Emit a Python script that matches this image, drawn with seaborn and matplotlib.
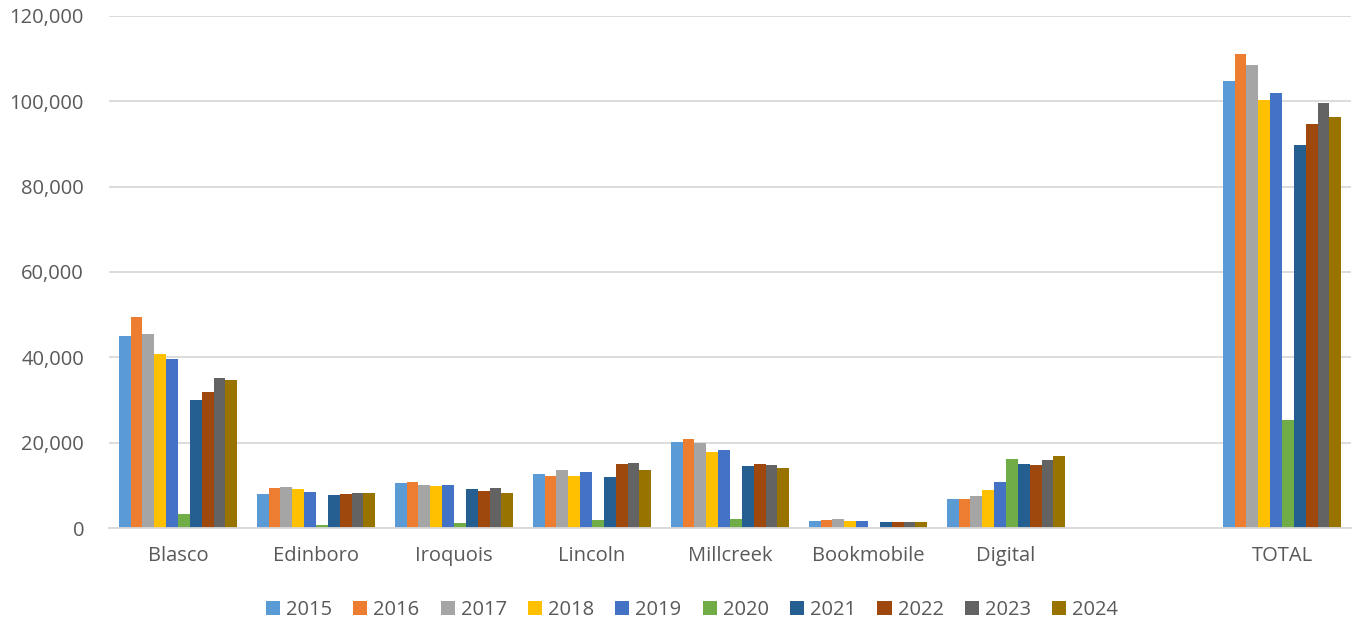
import matplotlib
matplotlib.use("Agg")
import matplotlib.pyplot as plt
import seaborn as sns
import pandas as pd
from matplotlib.ticker import FuncFormatter

categories = ["Blasco", "Edinboro", "Iroquois", "Lincoln", "Millcreek", "Bookmobile", "Digital", " ", "TOTAL"]
years = ["2015", "2016", "2017", "2018", "2019", "2020", "2021", "2022", "2023", "2024"]

blasco     = [45000, 49400, 45500, 40700, 39500, 3300, 30100, 31900, 35100, 34600]
edinboro   = [8000, 9450, 9500, 9100, 8400, 600, 7700, 8000, 8200, 8100]
iroquois   = [10500, 10800, 10000, 9800, 10100, 1200, 9100, 8700, 9300, 8100]
lincoln    = [12700, 12200, 13500, 12300, 13200, 1800, 12000, 15000, 15200, 13600]
millcreek  = [20100, 20800, 20000, 17800, 18200, 2000, 14600, 14900, 14700, 14000]
bookmobile = [1600, 1800, 2000, 1700, 1700, 100, 1500, 1300, 1300, 1500]
digital    = [6800, 6700, 7600, 8900, 10700, 16200, 14900, 14700, 15900, 16800]
total      = [104800, 111000, 108400, 100300, 101900, 25200, 89700, 94600, 99500, 96400]

colors = ["#5B9BD5", "#ED7D31", "#A5A5A5", "#FFC000", "#4472C4",
          "#70AD47", "#255E91", "#9E480E", "#636363", "#997300"]

series = {"Blasco": blasco, "Edinboro": edinboro, "Iroquois": iroquois, "Lincoln": lincoln,
          "Millcreek": millcreek, "Bookmobile": bookmobile, "Digital": digital, "TOTAL": total}

rows = []
for cat, vals in series.items():
    for y, v in zip(years, vals):
        rows.append({"cat": cat, "year": y, "value": v})
df = pd.DataFrame(rows)

sns.set_theme(style="white")
plt.rcParams["font.family"] = ["Open Sans", "DejaVu Sans"]

fig = plt.figure(figsize=(13.56, 6.26), dpi=100)
ax = fig.add_axes([109/1356, (626-528)/626, 1242/1356, 512/626])

sns.barplot(data=df, x="cat", y="value", hue="year", order=categories, hue_order=years,
            palette=colors, width=0.86, linewidth=0, saturation=1, ax=ax, legend=True)

ax.set_ylim(0, 120000)
ax.set_xlim(-0.5, len(categories) - 0.5)
ax.set_yticks(range(0, 120001, 20000))
ax.yaxis.set_major_formatter(FuncFormatter(lambda v, p: f"{int(v):,}"))
ax.grid(axis="y", color="#D9D9D9", linewidth=1.3)
ax.set_axisbelow(True)
for s in ["top", "right", "left"]:
    ax.spines[s].set_visible(False)
ax.spines["bottom"].set_color("#D9D9D9")
ax.spines["bottom"].set_linewidth(1.3)
ax.tick_params(axis="both", length=0, labelsize=14.5, colors="#595959")
ax.tick_params(axis="x", pad=13)
ax.tick_params(axis="y", pad=18)
ax.set_xlabel("")
ax.set_ylabel("")

handles, labels = ax.get_legend_handles_labels()
ax.legend(handles, labels, loc="center", bbox_to_anchor=((692-109)/1242, (610-528)/-512),
          ncol=10, frameon=False, fontsize=14.5, handlelength=0.7, handleheight=0.7,
          handletextpad=0.3, columnspacing=1.05, labelcolor="#595959")

fig.savefig("out.png", dpi=100)
